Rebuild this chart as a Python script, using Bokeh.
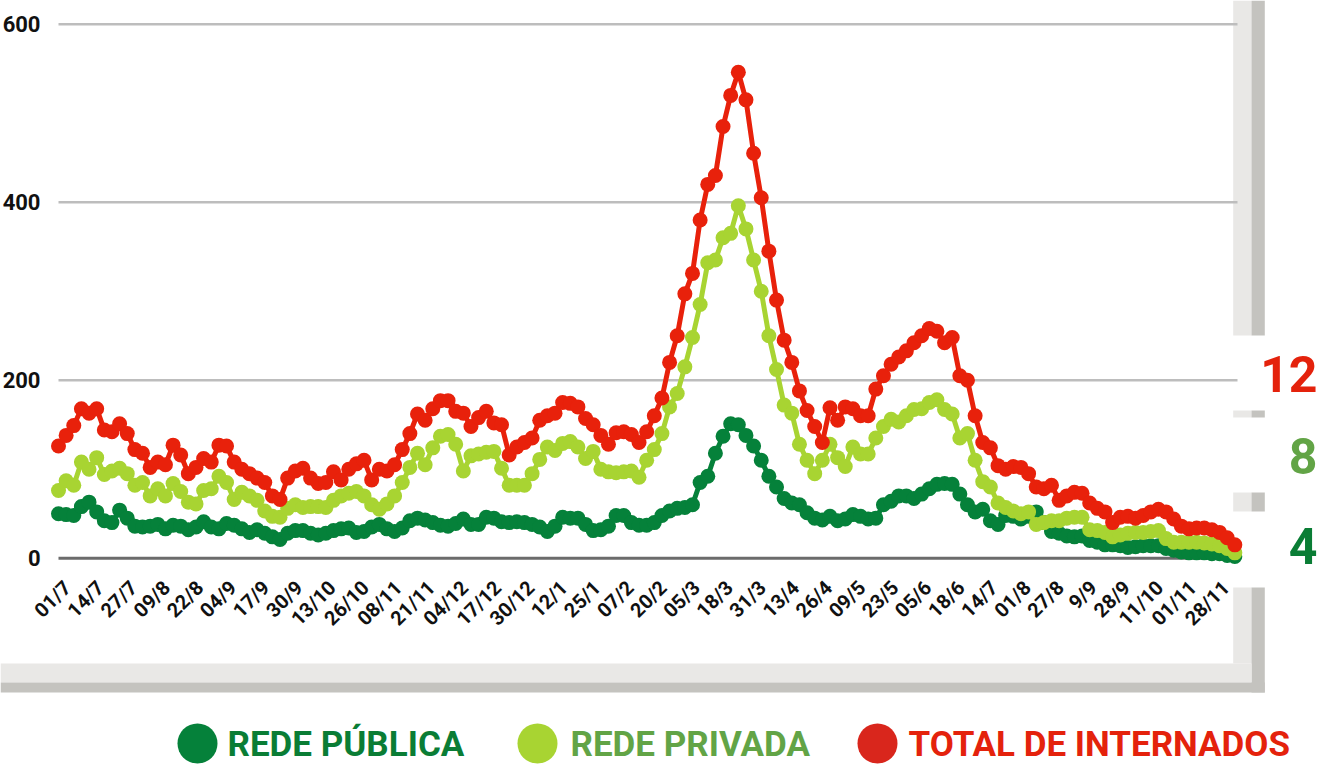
import math
from bokeh.plotting import figure
from bokeh.models import Range1d, FixedTicker, BoxAnnotation, Label, ColumnDataSource
from bokeh.embed import file_html
from bokeh.resources import INLINE

# ---------------- data (one value every 3 days) ----------------
day_step = 3

total_internados = [
    126, 138, 149, 168, 163, 168, 144, 142, 151, 140,
    122, 118, 102, 108, 105, 127, 116, 95, 102, 112,
    108, 127, 126, 108, 100, 95, 90, 85, 70, 66,
    90, 98, 101, 90, 84, 85, 97, 88, 100, 106,
    110, 88, 100, 98, 105, 122, 140, 162, 155, 168,
    177, 177, 165, 163, 148, 158, 165, 152, 150, 116,
    125, 130, 135, 155, 160, 163, 175, 174, 170, 157,
    150, 138, 128, 141, 142, 139, 130, 142, 160, 180,
    220, 250, 297, 320, 380, 420, 430, 485, 520, 546,
    515, 455, 405, 345, 290, 245, 220, 188, 166, 148,
    130, 169, 155, 170, 168, 160, 160, 190, 205, 218,
    226, 233, 242, 250, 258, 255, 242, 248, 205, 200,
    160, 130, 124, 104, 100, 103, 102, 95, 80, 78,
    82, 65, 70, 74, 73, 62, 56, 52, 40, 46,
    47, 45, 48, 52, 55, 52, 44, 36, 33, 34,
    34, 32, 29, 23, 15,
]

rede_privada = [
    76, 87, 82, 108, 100, 113, 94, 98, 101, 95,
    82, 85, 70, 78, 70, 84, 75, 63, 61, 76,
    78, 92, 85, 66, 74, 70, 65, 53, 47, 46,
    56, 60, 57, 58, 58, 57, 65, 70, 73, 75,
    70, 60, 55, 61, 70, 85, 102, 118, 105, 124,
    137, 139, 128, 98, 115, 117, 119, 120, 101, 82,
    82, 82, 95, 111, 125, 121, 129, 131, 125, 112,
    120, 100, 97, 96, 97, 98, 91, 110, 122, 140,
    170, 185, 215, 248, 285, 332, 335, 360, 365, 396,
    370, 335, 300, 250, 212, 172, 163, 128, 110, 95,
    110, 128, 113, 103, 125, 117, 117, 135, 148, 156,
    153, 160, 167, 168, 175, 178, 167, 162, 135, 140,
    110, 86, 80, 62, 57, 53, 50, 52, 38, 40,
    42, 42, 45, 46, 46, 32, 31, 29, 24, 26,
    28, 29, 29, 30, 31, 22, 18, 18, 18, 18,
    17, 16, 14, 11, 6,
]

rede_publica = [
    50, 49, 48, 58, 63, 52, 42, 40, 54, 45,
    36, 35, 36, 38, 33, 37, 36, 32, 35, 41,
    35, 33, 39, 37, 33, 29, 32, 28, 24, 21,
    28, 31, 31, 28, 26, 28, 31, 33, 34, 29,
    30, 35, 38, 33, 30, 34, 42, 45, 43, 40,
    37, 36, 39, 44, 38, 38, 46, 45, 41, 40,
    41, 40, 38, 35, 30, 36, 46, 45, 45, 38,
    31, 32, 36, 48, 48, 40, 37, 37, 40, 48,
    53, 56, 57, 60, 85, 92, 118, 137, 151, 150,
    138, 126, 110, 92, 80, 67, 62, 60, 51, 45,
    43, 47, 42, 44, 49, 47, 44, 45, 60, 64,
    70, 70, 67, 72, 78, 83, 84, 83, 72, 60,
    52, 55, 42, 38, 48, 47, 44, 47, 52, 40,
    30, 28, 25, 24, 25, 20, 18, 15, 15, 14,
    12, 13, 14, 14, 14, 11, 9, 7, 6, 6,
    6, 5, 5, 3, 2,
]

days = [i * day_step for i in range(len(total_internados))]

tick_labels = ["01/7", "14/7", "27/7", "09/8", "22/8", "04/9", "17/9", "30/9",
               "13/10", "26/10", "08/11", "21/11", "04/12", "17/12", "30/12",
               "12/1", "25/1", "07/2", "20/2", "05/3", "18/3", "31/3", "13/4",
               "26/4", "09/5", "23/5", "05/6", "18/6", "14/7", "01/8", "27/8",
               "9/9", "28/9", "11/10", "01/11", "28/11"]
tick_step_days = 13
tick_offset_days = 3.5
y_ticks = [0, 200, 400, 600]

legend_names = ["REDE PÚBLICA", "REDE PRIVADA", "TOTAL DE INTERNADOS"]
side_numbers = ["12", "8", "4"]

# ---------------- styles / layout ----------------
C_PUB = "#05813a"
C_PRIV = "#a8d432"
C_TOT = "#e8210b"
C_PUB_TXT = "#0a7d35"
C_PRIV_TXT = "#62a446"
C_TOT_TXT = "#e4220c"
C_TOT_DOT = "#d9261c"
STRIP_LIGHT = "#e9e8e6"
STRIP_DARK = "#c4c3bf"
FONT = "Roboto"

W, H = 1322, 768
X0_PX, PX_PER_DAY = 58.0, 33.1 / 13
Y0_PX, PX_PER_UNIT = 557.7, 0.89


def px2x(px):
    return (px - X0_PX) / PX_PER_DAY


def px2y(py):
    return (Y0_PX - py) / PX_PER_UNIT


p = figure(width=W, height=H, output_backend="svg", toolbar_location=None,
           x_range=Range1d(px2x(0), px2x(W)), y_range=Range1d(px2y(H), px2y(0)),
           min_border=0, min_border_left=0, min_border_right=0,
           min_border_top=0, min_border_bottom=0)
p.outline_line_color = None
p.background_fill_color = "white"
p.border_fill_color = "white"
p.xgrid.visible = False
p.ygrid.visible = False


def box(x0, x1, y0, y1, color, **kw):
    p.add_layout(BoxAnnotation(left=px2x(x0), right=px2x(x1), top=px2y(y0), bottom=px2y(y1),
                               fill_color=color, fill_alpha=1, line_color=None, **kw))


# ---------------- decorative frame (strips and bands) ----------------
for y0, y1 in [(0, 335), (410, 417), (492, 511), (587, 663)]:
    box(1232.7, 1251, y0, y1, STRIP_LIGHT, level="underlay")
for y0, y1 in [(0, 335), (410, 417), (492, 511), (587, 692)]:
    box(1251, 1264.3, y0, y1, STRIP_DARK, level="underlay")
box(0, 1251, 663, 682, STRIP_LIGHT, level="underlay")
box(0, 1264.3, 682, 692, STRIP_DARK, level="underlay")

# ---------------- grid lines ----------------
gx0, gx1 = px2x(58), px2x(1237)
p.segment(x0=[gx0] * 3, x1=[gx1] * 3, y0=y_ticks[1:], y1=y_ticks[1:], line_color="#bdbdbd", line_width=2.5)
p.segment(x0=[gx0], x1=[gx1], y0=[0], y1=[0], line_color="#6b6b6b", line_width=3)

# ---------------- series ----------------
for vals, col in [(rede_publica, C_PUB), (rede_privada, C_PRIV), (total_internados, C_TOT)]:
    src = ColumnDataSource(dict(x=days, y=vals))
    p.line("x", "y", source=src, line_color=col, line_width=5)
    p.scatter("x", "y", source=src, size=15, fill_color=col, line_color=None)

# ---------------- axes (drawn at fixed positions inside the canvas) ----------------
ticks = [tick_offset_days + i * tick_step_days for i in range(len(tick_labels))]
p.xaxis.fixed_location = 0
p.xaxis.ticker = FixedTicker(ticks=ticks)
p.xaxis.major_label_overrides = {t: lab for t, lab in zip(ticks, tick_labels)}
p.xaxis.major_label_orientation = math.pi / 4
p.xaxis.axis_line_color = None
p.xaxis.major_tick_line_color = None
p.xaxis.minor_tick_line_color = None
p.xaxis.major_tick_out = 0
p.xaxis.major_tick_in = 0
p.xaxis.major_label_standoff = 26
p.xaxis.major_label_text_font = FONT
p.xaxis.major_label_text_font_style = "bold"
p.xaxis.major_label_text_font_size = "20px"
p.xaxis.major_label_text_color = "#111111"

p.yaxis.fixed_location = px2x(44)
p.yaxis.ticker = FixedTicker(ticks=y_ticks)
p.yaxis.axis_line_color = None
p.yaxis.major_tick_line_color = None
p.yaxis.minor_tick_line_color = None
p.yaxis.major_tick_out = 0
p.yaxis.major_tick_in = 0
p.yaxis.major_label_standoff = 4
p.yaxis.major_label_text_font = FONT
p.yaxis.major_label_text_font_style = "bold"
p.yaxis.major_label_text_font_size = "22px"
p.yaxis.major_label_text_color = "#111111"

# ---------------- side numbers ----------------
for txt, col, mid in zip(side_numbers, [C_TOT_TXT, C_PRIV_TXT, C_PUB_TXT], [373, 455, 545]):
    p.add_layout(Label(x=px2x(1317), y=px2y(mid), text=txt, text_align="right",
                       text_baseline="middle", text_font=FONT, text_font_style="bold",
                       text_font_size="50px", text_color=col))

# ---------------- legend ----------------
leg_cy = 743
for name, dot, tcol, cx, tx in zip(legend_names, [C_PUB, C_PRIV, C_TOT_DOT],
                                   [C_PUB_TXT, C_PRIV_TXT, C_TOT_TXT],
                                   [197, 537, 877], [227, 570, 908]):
    box(cx - 20, cx + 20, leg_cy - 20, leg_cy + 20, dot, border_radius=20)
    p.add_layout(Label(x=px2x(tx), y=px2y(leg_cy + 1), text=name, text_align="left",
                       text_baseline="middle", text_font=FONT, text_font_style="bold",
                       text_font_size="35px", text_color=tcol))

open("out.html", "w").write(file_html(p, INLINE))
